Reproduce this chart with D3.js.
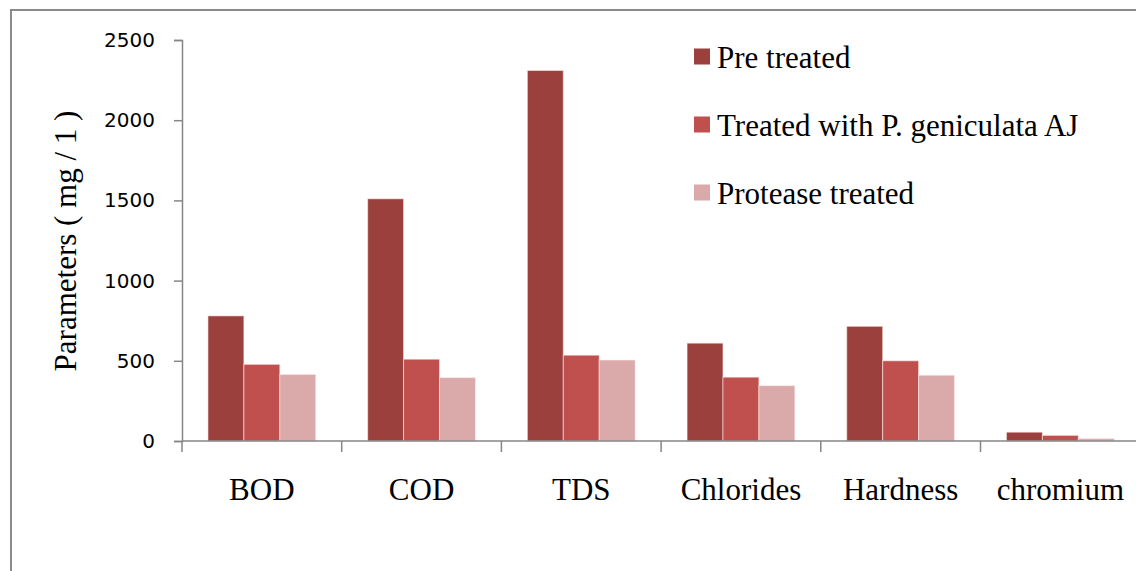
<!DOCTYPE html>
<html>
<head>
<meta charset="utf-8">
<script src="https://cdn.jsdelivr.net/npm/d3@7"></script>
<style>
  body { margin: 0; background: #fff; }
  svg { display: block; }
</style>
</head>
<body>
<svg id="chart"></svg>
<script>
// chart data
var categories = ["BOD", "COD", "TDS", "Chlorides", "Hardness", "chromium"];
var seriesNames = ["Pre treated", "Treated with P. geniculata AJ", "Protease treated"];
var preTreated = [780, 1510, 2310, 610, 715, 55];
var treatedPG = [478, 510, 535, 398, 500, 35];
var proteaseTreated = [415, 395, 505, 345, 410, 15];
var yTicks = [0, 500, 1000, 1500, 2000, 2500];

var colors = ["#9c403e", "#c0504d", "#d9aaa9"];
var width = 1136, height = 571;

var svg = d3.select("svg#chart")
    .attr("width", width)
    .attr("height", height);

// outer frame (runs off the right and bottom edge)
svg.append("rect")
    .attr("x", 11)
    .attr("y", 10)
    .attr("width", 1200)
    .attr("height", 700)
    .attr("fill", "none")
    .attr("stroke", "#8a8a8a")
    .attr("stroke-width", 2);

// scales
var x = d3.scaleBand()
    .domain(categories)
    .range([182, 182 + 6 * 159.7])
    .paddingInner(0.325)
    .paddingOuter(0.1625);

var xSub = d3.scaleBand()
    .domain(seriesNames)
    .range([0, x.bandwidth()]);

var y = d3.scaleLinear()
    .domain([0, 2500])
    .range([441, 40]);

var table = categories.map(function (c, i) {
    return { cat: c, values: [preTreated[i], treatedPG[i], proteaseTreated[i]] };
});

// bars
var groups = svg.append("g")
    .selectAll("g")
    .data(table)
    .join("g")
    .attr("transform", function (d) { return "translate(" + x(d.cat) + ",0)"; });

groups.selectAll("rect")
    .data(function (d) { return d.values.map(function (v, j) { return { name: seriesNames[j], value: v, j: j }; }); })
    .join("rect")
    .attr("x", function (d) { return xSub(d.name); })
    .attr("y", function (d) { return y(d.value); })
    .attr("width", xSub.bandwidth())
    .attr("height", function (d) { return y(0) - y(d.value); })
    .attr("fill", function (d) { return colors[d.j]; })
    .attr("stroke", "rgba(255,235,235,0.6)")
    .attr("stroke-width", 1);

// y axis
var yAxis = d3.axisLeft(y)
    .tickValues(yTicks)
    .tickSize(8)
    .tickPadding(19)
    .tickFormat(d3.format("d"));

var gY = svg.append("g")
    .attr("transform", "translate(182,0)")
    .call(yAxis);

gY.select(".domain").attr("stroke", "#868686").attr("stroke-width", 1.5);
gY.selectAll(".tick line").attr("stroke", "#868686").attr("stroke-width", 1.5);
gY.selectAll(".tick text")
    .attr("fill", "#000")
    .style("font-family", "DejaVu Sans")
    .style("font-size", "20px");

// x axis line and ticks at category boundaries
var step = x.step();
var x0 = x.range()[0];
svg.append("line")
    .attr("x1", x0).attr("x2", width + 10)
    .attr("y1", y(0)).attr("y2", y(0))
    .attr("stroke", "#868686").attr("stroke-width", 1.5);

svg.append("g")
    .selectAll("line")
    .data(d3.range(categories.length))
    .join("line")
    .attr("x1", function (i) { return x0 + i * step; })
    .attr("x2", function (i) { return x0 + i * step; })
    .attr("y1", y(0))
    .attr("y2", y(0) + 11)
    .attr("stroke", "#868686")
    .attr("stroke-width", 1.5);

// category labels
svg.append("g")
    .selectAll("text")
    .data(categories)
    .join("text")
    .attr("x", function (c) { return x(c) + x.bandwidth() / 2; })
    .attr("y", 500)
    .attr("text-anchor", "middle")
    .style("font-family", "Liberation Serif")
    .style("font-size", "31px")
    .text(function (c) { return c; });

// y axis title
svg.append("text")
    .attr("transform", "translate(76,241) rotate(-90)")
    .attr("text-anchor", "middle")
    .style("font-family", "Liberation Serif")
    .style("font-size", "31px")
    .text("Parameters ( mg / 1 )");

// legend
var legend = svg.append("g")
    .selectAll("g")
    .data(seriesNames)
    .join("g")
    .attr("transform", function (d, i) { return "translate(694," + (56.5 + i * 68) + ")"; });

legend.append("rect")
    .attr("x", 0).attr("y", -8)
    .attr("width", 16).attr("height", 16)
    .attr("fill", function (d, i) { return colors[i]; });

legend.append("text")
    .attr("x", 23)
    .attr("y", 11)
    .style("font-family", "Liberation Serif")
    .style("font-size", "31px")
    .text(function (d) { return d; });
</script>
</body>
</html>
